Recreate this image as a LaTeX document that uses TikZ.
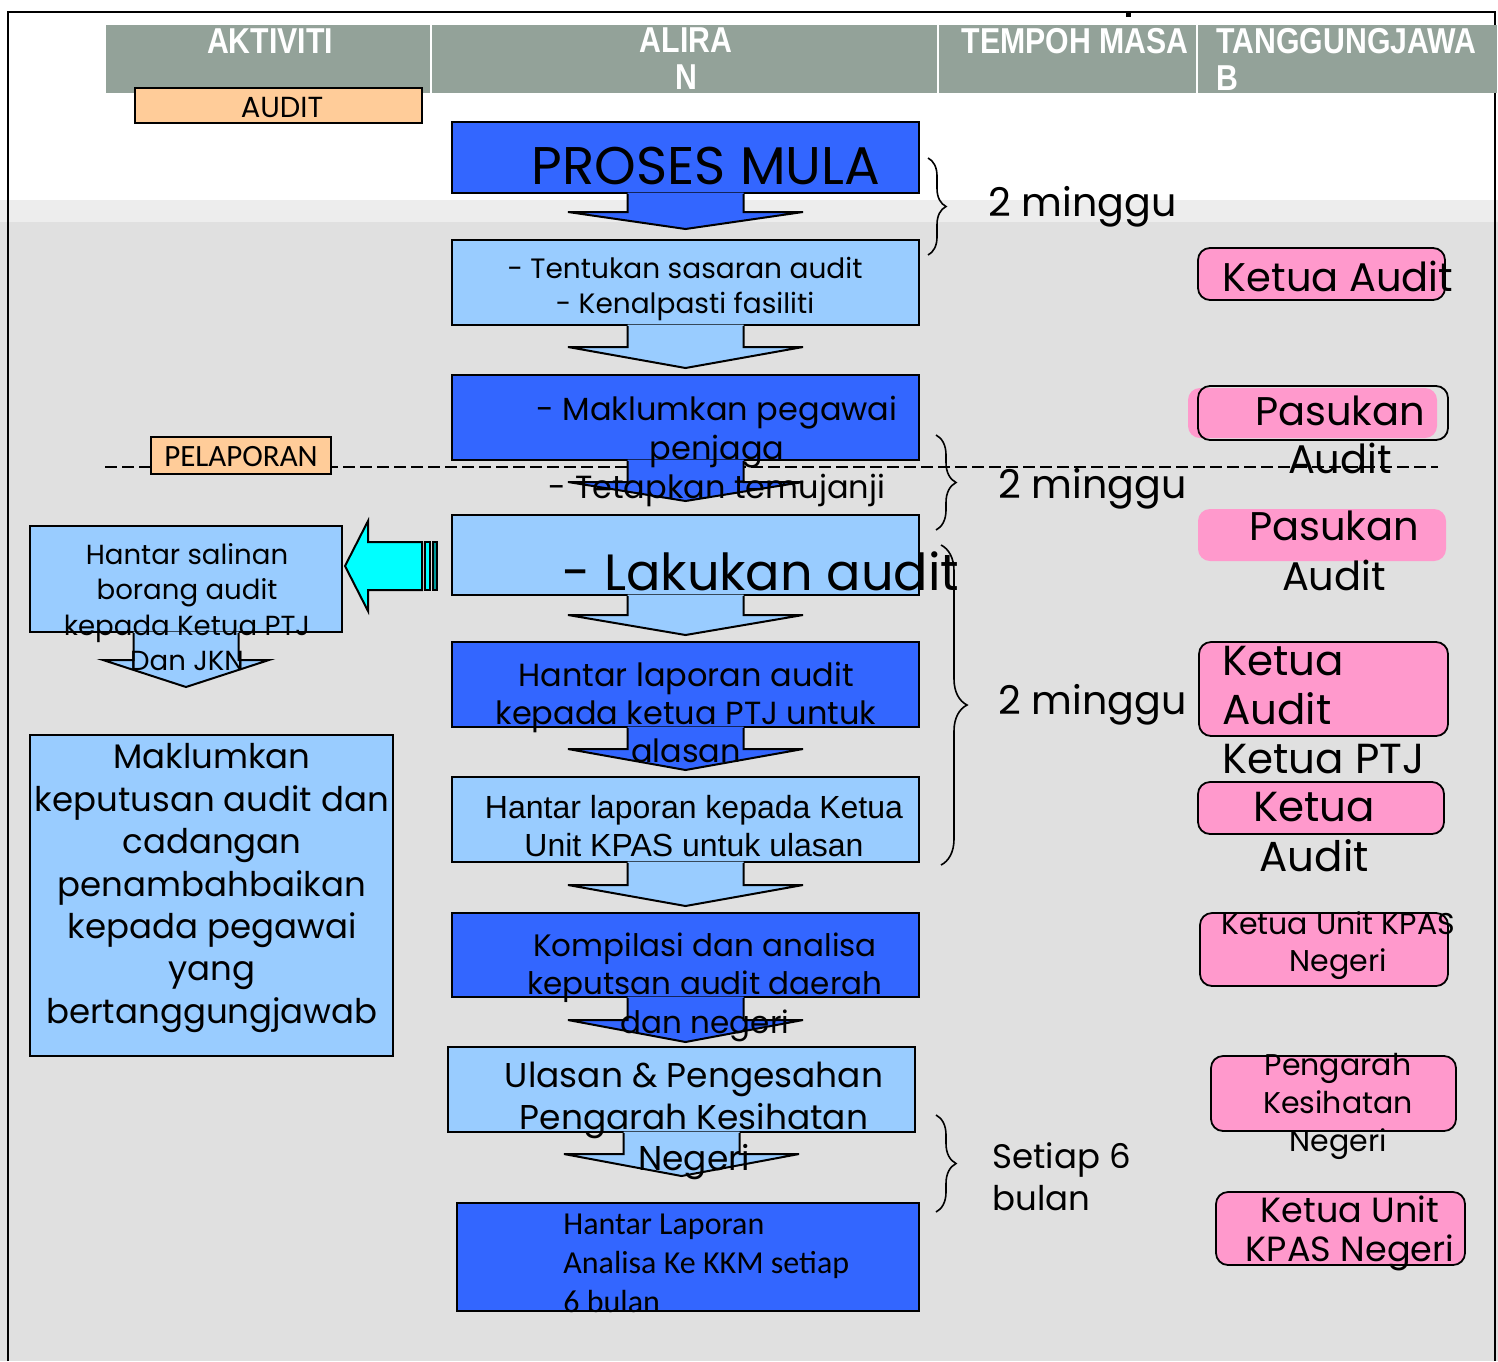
\documentclass[tikz,border=0pt]{standalone}
\usepackage{fontspec}
\setmainfont{Poppins}
\newfontfamily\arialf{Liberation Sans}
\newfontfamily\calf{Carlito}
\newfontfamily\hdrf[FakeStretch=0.84]{Liberation Sans}
\usetikzlibrary{calc,fit,decorations.pathreplacing}
\definecolor{hdr}{RGB}{147,162,153}
\definecolor{myblue}{RGB}{51,102,255}
\definecolor{lblue}{RGB}{153,204,255}
\definecolor{orng}{RGB}{255,204,153}
\definecolor{pinkc}{RGB}{255,153,204}
\definecolor{cyanc}{RGB}{0,255,255}
\definecolor{tealc}{RGB}{0,153,153}
\definecolor{bggray}{RGB}{224,224,224}
\definecolor{bandgray}{RGB}{237,237,237}
\tikzset{
  hdrcell/.style={fill=hdr,draw=none,inner sep=0pt},
  bluebox/.style={fill=myblue,draw=black,line width=1pt,inner sep=0pt},
  lbox/.style={fill=lblue,draw=black,line width=1pt,inner sep=0pt},
  orbox/.style={fill=orng,draw=black,line width=1pt,inner sep=0pt},
  pinkbox/.style={fill=pinkc,draw=black,line width=0.9pt,rounded corners=6pt,inner sep=0pt},
  pinkfill/.style={fill=pinkc,draw=none,rounded corners=6pt,inner sep=0pt},
  pinkline/.style={draw=black,line width=0.9pt,rounded corners=6pt,inner sep=0pt},
  arrline/.style={draw=black,line width=1pt,line join=miter},
  txt/.style={inner sep=0pt,align=center,text=black},
  txtl/.style={inner sep=0pt,align=left,text=black},
  hdrtxt/.style={inner sep=0pt,align=center,text=white,font=\hdrf\bfseries\fontsize{18pt}{18.5pt}\selectfont},
  bracestyle/.style={draw=black,line width=0.8pt,decorate,decoration={brace,amplitude=#1}},
}
\newcommand\blockarr[6]{%
  \fill[#2] ($(#1.south)+(-#3,-1.5)$) -- ($(#1.south)+(-#3,#5)$) -- ($(#1.south)+(-#4,#5)$) -- ($(#1.south)+(0,#5+#6)$) -- ($(#1.south)+(#4,#5)$) -- ($(#1.south)+(#3,#5)$) -- ($(#1.south)+(#3,-1.5)$) -- cycle;
  \draw[arrline] ($(#1.south)+(-#3,0)$) -- ($(#1.south)+(-#3,#5)$) -- ($(#1.south)+(-#4,#5)$) -- ($(#1.south)+(0,#5+#6)$) -- ($(#1.south)+(#4,#5)$) -- ($(#1.south)+(#3,#5)$) -- ($(#1.south)+(#3,0)$);}
\begin{document}
\begin{tikzpicture}[x=0.5pt,y=-0.5pt]
\useasboundingbox (0,0) rectangle (1498,1361);
% background
\fill[white] (0,0) rectangle (1498,200);
\fill[bandgray] (0,200) rectangle (1498,222);
\fill[bggray] (0,222) rectangle (1498,1361);
% frame
\draw[line width=1.2pt] (8,1361) -- (8,12) -- (1495,12) -- (1495,1361);
\fill[black] (1126,12) rectangle (1131,17);
% header
\node[hdrcell,fit={(106,25) (430,93)}] (h1) {};
\node[hdrcell,fit={(432,25) (937,93)}] (h2) {};
\node[hdrcell,fit={(939,25) (1196,93)}] (h3) {};
\node[hdrcell,fit={(1198,25) (1497,93)}] (h4) {};
\node[hdrtxt] (t1) at (270,41) {AKTIVITI};
\node[hdrtxt] (t2) at (686,59) {ALIRA\\N};
\node[hdrtxt] (t3) at (1075,41) {TEMPOH MASA};
\node[hdrtxt,align=left,anchor=west] (t4) at (1216,59) {TANGGUNGJAWA\\B};
% dashed line
\coordinate (dl) at (105,467);
\coordinate (dr) at (1438,467);
\draw[line width=1.1pt,dash pattern=on 6pt off 2.5pt] (dl) -- (dr);
% orange labels
\node[orbox,fit={(135,88) (422,123)}] (audit) {};
\node[orbox,fit={(151,437) (331,474)}] (pel) {};
% flow boxes
\node[bluebox,fit={(452,122) (919,193)}] (b1) {};
\node[lbox,fit={(452,240) (919,325)}] (b2) {};
\node[bluebox,fit={(452,375) (919,460)}] (b3) {};
\node[lbox,fit={(452,515) (919,595)}] (b4) {};
\node[bluebox,fit={(452,642) (919,727)}] (b5) {};
\node[lbox,fit={(452,777) (919,862)}] (b6) {};
\node[bluebox,fit={(452,913) (919,997)}] (b7) {};
\node[lbox,fit={(448,1047) (915,1132)}] (b8) {};
\node[bluebox,fit={(457,1203) (919,1311)}] (b9) {};
\node[lbox,fit={(30,526) (342,632)}] (hs) {};
\node[lbox,fit={(30,735) (393,1056)}] (mk) {};
% block arrows
\blockarr{b1}{myblue}{58}{117.5}{18}{17}
\blockarr{b2}{lblue}{58}{117.5}{21}{21}
\blockarr{b3}{myblue}{58}{117.5}{21}{19}
\blockarr{b4}{lblue}{58}{117.5}{19}{20}
\blockarr{b5}{myblue}{58}{117.5}{21}{21}
\blockarr{b6}{lblue}{58}{117.5}{22}{21}
\blockarr{b7}{myblue}{58}{117.5}{22}{22}
\blockarr{b8}{lblue}{58}{117.5}{21}{22}
\blockarr{hs}{lblue}{52.5}{83}{27}{27}
% cyan arrow
\coordinate (ctip) at (345,566);
\filldraw[fill=cyanc,draw=black,line width=1pt,line join=miter] (ctip) -- (368,521) -- (368,542) -- (422,542) -- (422,590) -- (368,590) -- (368,611) -- cycle;
\filldraw[fill=cyanc,draw=black,line width=0.8pt] (425,542) rectangle (430,590);
\filldraw[fill=tealc,draw=black,line width=0.8pt] (433,542) rectangle (437,590);
% braces
\draw[bracestyle=9pt] (928,158) -- (928,255);
\draw[bracestyle=10pt] (936,435) -- (936,530);
\draw[bracestyle=13pt] (941,545) -- (941,865);
\draw[bracestyle=10pt] (936,1115) -- (936,1212);
% pink boxes
\node[pinkbox,fit={(1198,248) (1445,300)}] (r1) {};
\node[pinkfill,fit={(1188,388) (1437,438)}] (r2f) {};
\node[pinkline,fit={(1198,386) (1448,440)}] (r2) {};
\node[pinkfill,fit={(1198,509) (1446,561)}] (r3) {};
\node[pinkbox,fit={(1199,642) (1448,736)}] (r4) {};
\node[pinkbox,fit={(1198,782) (1444,834)}] (r5) {};
\node[pinkbox,fit={(1200,913) (1448,986)}] (r6) {};
\node[pinkbox,fit={(1211,1056) (1456,1131)}] (r7) {};
\node[pinkbox,fit={(1216,1192) (1465,1265)}] (r8) {};
% texts
\node[txt,font=\fontsize{14.5pt}{16pt}\selectfont] (auditt) at (282,107) {AUDIT};
\node[txt,font=\calf\fontsize{15.5pt}{17pt}\selectfont] (pelt) at (241,457) {PELAPORAN};
\node[txt,font=\fontsize{26.5pt}{30pt}\selectfont] (b1t) at (706,166) {PROSES MULA};
\node[txt,font=\fontsize{14pt}{17.5pt}\selectfont] (b2t) at (685,289) {- Tentukan sasaran audit\\- Kenalpasti fasiliti};
\node[txt,font=\fontsize{16pt}{19.5pt}\selectfont] (b3t) at (717,451) {- Maklumkan pegawai\\penjaga\\- Tetapkan temujanji};
\node[txt,font=\fontsize{25.5pt}{30pt}\selectfont] (b4t) at (761,571) {- Lakukan audit};
\node[txt,font=\fontsize{16pt}{19pt}\selectfont] (b5t) at (686,712) {Hantar laporan audit\\kepada ketua PTJ untuk\\alasan};
\node[txt,font=\arialf\fontsize{16pt}{19pt}\selectfont] (b6t) at (694,826) {Hantar laporan kepada Ketua\\Unit KPAS untuk ulasan};
\node[txt,font=\fontsize{15.5pt}{19.3pt}\selectfont] (b7t) at (705,987) {Kompilasi dan analisa\\keputsan audit daerah\\dan negeri};
\node[txt,font=\fontsize{17.2pt}{20.8pt}\selectfont] (b8t) at (694,1121) {Ulasan \& Pengesahan\\Pengarah Kesihatan\\Negeri};
\node[txtl,anchor=west,font=\calf\fontsize{16pt}{19.5pt}\selectfont] (b9t) at (563,1263) {Hantar Laporan\\Analisa Ke KKM setiap\\6 bulan};
\node[txt,font=\fontsize{13.8pt}{17.7pt}\selectfont] (hst) at (187,607) {Hantar salinan\\borang audit\\kepada Ketua PTJ\\Dan JKN};
\node[txt,font=\fontsize{17pt}{21.2pt}\selectfont] (mkt) at (212,888) {Maklumkan\\keputusan audit dan\\cadangan\\penambahbaikan\\kepada pegawai\\yang\\bertanggungjawab};
% tempoh
\node[txtl,anchor=west,font=\fontsize{19.8pt}{24pt}\selectfont] (m1) at (988,207) {2 minggu};
\node[txtl,anchor=west,font=\fontsize{19.8pt}{24pt}\selectfont] (m2) at (998,489) {2 minggu};
\node[txtl,anchor=west,font=\fontsize{19.8pt}{24pt}\selectfont] (m3) at (998,705) {2 minggu};
\node[txtl,anchor=west,font=\fontsize{17pt}{21pt}\selectfont] (m4) at (992,1177) {Setiap 6\\bulan};
% tanggungjawab
\node[txt,font=\fontsize{20pt}{24pt}\selectfont] (r1t) at (1338,276) {Ketua Audit};
\node[txt,font=\fontsize{20pt}{24pt}\selectfont] (r2t) at (1340,435) {Pasukan\\Audit};
\node[txt,font=\fontsize{20pt}{25pt}\selectfont] (r3t) at (1334,551) {Pasukan\\Audit};
\node[txtl,anchor=west,font=\fontsize{21pt}{24.5pt}\selectfont] (r4t) at (1222,710) {Ketua\\Audit\\Ketua PTJ};
\node[txt,font=\fontsize{21pt}{25pt}\selectfont] (r5t) at (1314,832) {Ketua\\Audit};
\node[txt,font=\fontsize{15pt}{18.5pt}\selectfont] (r6t) at (1338,946) {Ketua Unit KPAS\\Negeri};
\node[txt,font=\fontsize{15pt}{19pt}\selectfont] (r7t) at (1338,1106) {Pengarah\\Kesihatan\\Negeri};
\node[txt,font=\fontsize{17.5pt}{19.5pt}\selectfont] (r8t) at (1350,1233) {Ketua Unit\\KPAS Negeri};
\end{tikzpicture}
\end{document}
